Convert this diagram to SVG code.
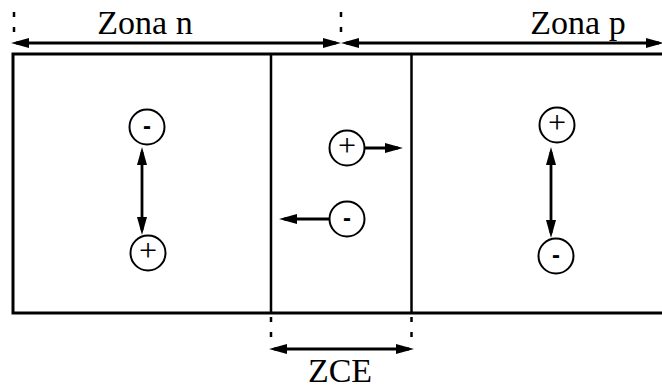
<svg xmlns="http://www.w3.org/2000/svg" width="662" height="388" viewBox="0 0 662 388">
<style>
.frame{fill:none;stroke:#000;stroke-width:3}
.div{fill:none;stroke:#000;stroke-width:2.5}
.tick{fill:none;stroke:#000;stroke-width:2.5;stroke-dasharray:5 10}
.arr{fill:none;stroke:#000;stroke-width:2.8;marker-end:url(#ah);marker-start:url(#ah)}
.arr1{fill:none;stroke:#000;stroke-width:2.8;marker-end:url(#ah)}
.lbl{font-size:34px;fill:#000;text-anchor:middle}
.c{fill:#fff;stroke:#000;stroke-width:2}
.plus{font-size:32px;fill:#000;text-anchor:middle}
.minus{font-size:24px;font-weight:bold;fill:#000;text-anchor:middle}
</style>
<defs>
<marker id="ah" markerUnits="userSpaceOnUse" markerWidth="18" markerHeight="10" refX="13" refY="5" orient="auto-start-reverse" overflow="visible">
<path d="M0,0 L18,5 L0,10 Z" fill="#000"/>
</marker>
</defs>
<g id="frame">
<path class="frame" d="M662,54 H13 V313 H662"/>
<line class="div" x1="271" y1="54" x2="271" y2="313"/>
<line class="div" x1="411.5" y1="54" x2="411.5" y2="313"/>
<line class="tick" x1="14" y1="12" x2="14" y2="32"/>
<line class="tick" x1="341" y1="12" x2="341" y2="32"/>
<line class="tick" x1="271" y1="317" x2="271" y2="337"/>
<line class="tick" x1="411.5" y1="317" x2="411.5" y2="337"/>
</g>
<g id="labels" font-family="'Liberation Serif', 'Times New Roman', serif">
<text class="lbl" x="145" y="34">Zona n</text>
<text class="lbl" x="578" y="34">Zona p</text>
<text class="lbl" x="340" y="382">ZCE</text>
</g>
<g id="connectors">
<line class="arr" x1="16" y1="43" x2="336" y2="43"/>
<line class="arr" x1="346" y1="43" x2="659" y2="43"/>
<line class="arr" x1="274" y1="349" x2="409" y2="349"/>
<line class="arr" x1="142" y1="152" x2="142" y2="230"/>
<line class="arr" x1="551" y1="152" x2="551" y2="233"/>
<line class="arr1" x1="364" y1="148" x2="398" y2="148"/>
<line class="arr1" x1="330" y1="219" x2="284" y2="219"/>
</g>
<g id="n-minus" font-family="'Liberation Sans', Arial, sans-serif">
<circle class="c" cx="147" cy="127" r="17.5"/>
<text class="minus" x="147" y="134">-</text>
</g>
<g id="n-plus" font-family="'Liberation Serif', 'Times New Roman', serif">
<circle class="c" cx="148" cy="253" r="17.5"/>
<text class="plus" x="148" y="261">+</text>
</g>
<g id="zce-plus" font-family="'Liberation Serif', 'Times New Roman', serif">
<circle class="c" cx="347" cy="148" r="17.5"/>
<text class="plus" x="347" y="156">+</text>
</g>
<g id="zce-minus" font-family="'Liberation Sans', Arial, sans-serif">
<circle class="c" cx="347" cy="219" r="17.5"/>
<text class="minus" x="347" y="226">-</text>
</g>
<g id="p-plus" font-family="'Liberation Serif', 'Times New Roman', serif">
<circle class="c" cx="557" cy="125" r="17.5"/>
<text class="plus" x="557" y="133">+</text>
</g>
<g id="p-minus" font-family="'Liberation Sans', Arial, sans-serif">
<circle class="c" cx="556" cy="256" r="17.5"/>
<text class="minus" x="556" y="263">-</text>
</g>
</svg>
